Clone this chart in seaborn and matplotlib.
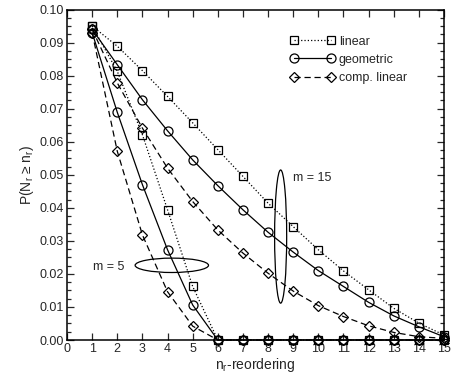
import numpy as np
import pandas as pd
import matplotlib
matplotlib.use("Agg")
import matplotlib.pyplot as plt
from matplotlib.patches import Ellipse
from matplotlib.lines import Line2D
import seaborn as sns

sns.set_theme(style="ticks")
plt.rcParams['font.family'] = ['Liberation Sans', 'DejaVu Sans']

n_r = list(range(1, 16))
# m = 15
lin15 = [0.095, 0.0889, 0.0815, 0.0737, 0.0657, 0.0576, 0.0495, 0.0414, 0.0343, 0.0273, 0.0209, 0.0152, 0.0096, 0.0051, 0.0015]
geo15 = [0.094, 0.0833, 0.0727, 0.0633, 0.0545, 0.0467, 0.0394, 0.0326, 0.0266, 0.0210, 0.0162, 0.0114, 0.0073, 0.0040, 0.0010]
comp15 = [0.094, 0.0778, 0.0641, 0.0520, 0.0419, 0.0333, 0.0263, 0.0202, 0.0148, 0.0104, 0.0071, 0.0043, 0.0023, 0.0010, 0.0005]
# m = 5
lin5 = [0.095, 0.0813, 0.0621, 0.0394, 0.0162, 0.0, 0, 0, 0, 0, 0, 0, 0, 0, 0]
geo5 = [0.093, 0.0689, 0.0470, 0.0273, 0.0106, 0.0, 0, 0, 0, 0, 0, 0, 0, 0, 0]
comp5 = [0.093, 0.0571, 0.0318, 0.0146, 0.0042, 0.0, 0, 0, 0, 0, 0, 0, 0, 0, 0]

legend_labels = ["linear", "geometric", "comp. linear"]

fig = plt.figure(figsize=(4.69, 3.81), dpi=100)
ax = fig.add_axes([0.1429, 0.1076, 0.8038, 0.8674])

styles = {
    "linear": dict(marker='s', linestyle=':', markersize=5.5),
    "geometric": dict(marker='o', linestyle='-', markersize=6.5),
    "comp. linear": dict(marker='D', linestyle=(0, (5, 3)), markersize=5),
}
series = [("linear", lin15), ("geometric", geo15), ("comp. linear", comp15),
          ("linear", lin5), ("geometric", geo5), ("comp. linear", comp5)]
for name, vals in series:
    st = styles[name]
    sns.lineplot(x=n_r, y=vals, ax=ax, color='black', linewidth=0.9,
                 marker=st['marker'], linestyle=st['linestyle'],
                 markersize=st['markersize'], markerfacecolor='none',
                 markeredgecolor='black', markeredgewidth=0.9, legend=False,
                 clip_on=False, zorder=3)

ax.add_patch(Ellipse((8.5, 0.0313), 0.48, 0.0403, fill=False, edgecolor='black', linewidth=0.9))
ax.add_patch(Ellipse((4.17, 0.0226), 2.92, 0.00435, fill=False, edgecolor='black', linewidth=0.9))
ax.text(9.0, 0.049, "m = 15", fontsize=9, va='center', ha='left')
ax.text(2.3, 0.0221, "m = 5", fontsize=9, va='center', ha='right')

ax.set_xlim(0, 15)
ax.set_ylim(0, 0.10)
ax.set_xticks(range(0, 16))
ax.set_yticks(np.arange(0, 0.1001, 0.01))
ax.set_yticks(np.arange(0, 0.1001, 0.0025), minor=True)
ax.yaxis.set_major_formatter(matplotlib.ticker.FormatStrFormatter('%.2f'))
ax.tick_params(which='both', direction='in', top=True, right=True, labelsize=9, width=0.9, pad=2)
ax.tick_params(which='major', length=5)
ax.tick_params(which='minor', length=3)
for s in ax.spines.values():
    s.set_linewidth(1.1)
    s.set_color('black')

ax.set_xlabel(r"n$_\mathregular{r}$-reordering", fontsize=10, labelpad=1)
ax.set_ylabel(r"P(N$_\mathregular{r}$ ≥ n$_\mathregular{r}$)", fontsize=10, labelpad=3)

handles = [Line2D([], [], color='black', linewidth=0.9, marker=styles[k]['marker'],
                  linestyle=styles[k]['linestyle'], markersize=styles[k]['markersize'],
                  markerfacecolor='none', markeredgewidth=0.9) for k in legend_labels]
ax.legend(handles, legend_labels, loc='upper left', bbox_to_anchor=(0.575, 0.94),
          frameon=False, fontsize=9, handlelength=3.6, numpoints=2,
          borderpad=0, labelspacing=0.5, handletextpad=0.3)

fig.savefig("out.png", dpi=100)
